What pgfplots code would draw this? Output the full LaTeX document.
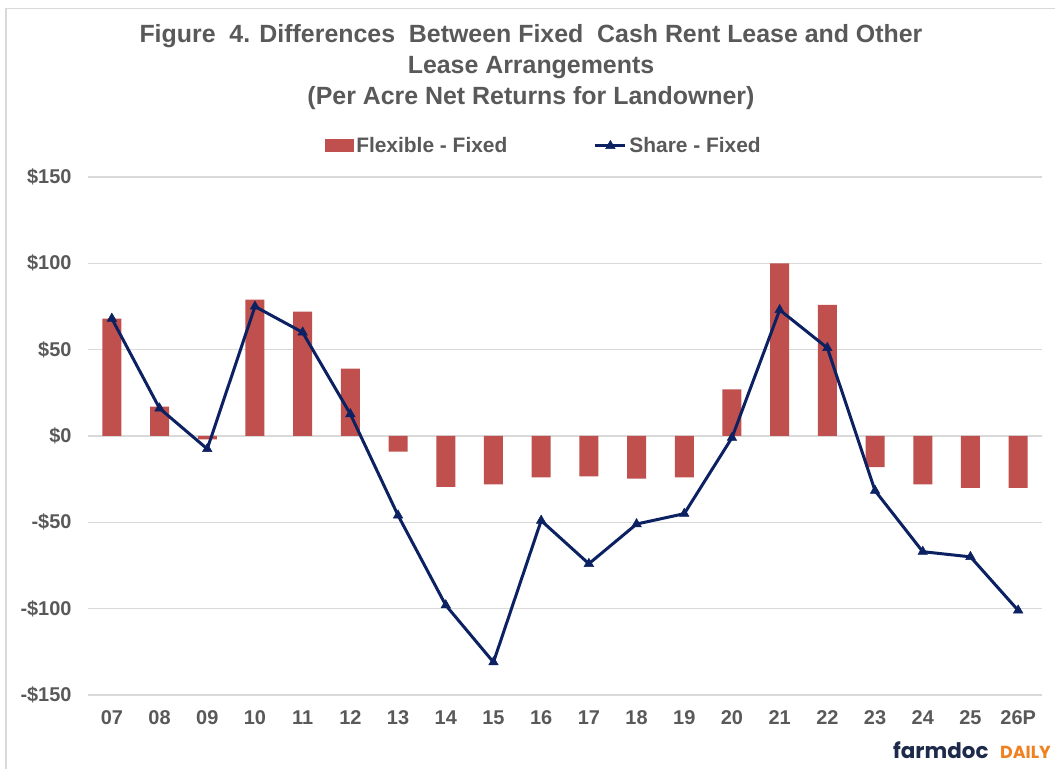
\documentclass[border=0pt]{standalone}
\usepackage{pgfplots}
\pgfplotsset{compat=1.18}
\usepackage{fontspec}
\setmainfont{Liberation Sans}
\newfontfamily\logofont{Poppins}
\definecolor{barred}{HTML}{C0504D}
\definecolor{navyline}{HTML}{0B2161}
\definecolor{txtgray}{HTML}{595959}
\definecolor{gridgray}{HTML}{D9D9D9}
\definecolor{logonavy}{HTML}{1E2A4A}
\definecolor{logoorange}{HTML}{F08122}
\pgfplotsset{
  my line legend/.style={legend image code/.code={\draw[mark repeat=2,mark phase=2,##1] plot coordinates {(0bp,0bp) (15bp,0bp) (30bp,0bp)};}},
  my bar legend/.style={legend image code/.code={\fill[barred] (0bp,-6.5bp) rectangle (29bp,6.5bp);}},
}
\begin{document}
\begin{tikzpicture}[x=1bp,y=1bp]
\useasboundingbox (0,0) rectangle (1055,769);
\fill[white] (0,0) rectangle (1055,769);
\draw[gridgray,line width=1.2bp] (6,0) -- (6,760.5) -- (1055,760.5);
\begin{axis}[
  at={(88bp,74bp)}, anchor=south west,
  scale only axis, width=954bp, height=518bp,
  xmin=-0.5, xmax=19.5, ymin=-150, ymax=150,
  xtick={0,...,19},
  xticklabels={07,08,09,10,11,12,13,14,15,16,17,18,19,20,21,22,23,24,25,26P},
  ytick={-150,-100,-50,0,50,100,150},
  yticklabels={-\$150,-\$100,-\$50,\$0,\$50,\$100,\$150},
  ymajorgrids, grid style={gridgray,line width=1.2bp},
  axis line style={draw=none},
  major tick length=0pt,
  tick label style={font=\fontsize{20}{20}\selectfont\bfseries, text=txtgray},
  yticklabel style={xshift=-13bp},
  xticklabel style={yshift=-12bp},
  legend columns=2,
  legend style={at={(0.478,1.060)}, anchor=center, draw=none, fill=none,
    font=\fontsize{21}{21}\selectfont\bfseries, text=txtgray,
    /tikz/every even column/.append style={column sep=84bp},
    nodes={inner sep=2.5bp}},
]
\addplot[ybar, bar width=19bp, fill=barred, draw=none, bar shift=0pt, my bar legend]
  coordinates {(0,68) (1,17) (2,-2) (3,79) (4,72) (5,39) (6,-9) (7,-29.5) (8,-28) (9,-24)
  (10,-23.4) (11,-24.7) (12,-24) (13,27) (14,100) (15,76) (16,-18) (17,-28) (18,-30) (19,-30)};
\addlegendentry{Flexible - Fixed}
\addplot[navyline, line width=3bp, mark=triangle*, mark size=5.5bp,
  mark options={line width=0.5bp}, my line legend]
  coordinates {(0,68) (1,16) (2,-7.5) (3,75) (4,60) (5,12.7) (6,-46) (7,-98) (8,-131) (9,-49)
  (10,-74) (11,-51) (12,-45) (13,-1) (14,73) (15,51) (16,-31.7) (17,-67) (18,-70) (19,-101)};
\addlegendentry{Share - Fixed}
\end{axis}
\node[anchor=base, text=txtgray, font=\fontsize{25}{25}\selectfont\bfseries] at (531,726) {Figure\ \ 4. Differences\ \ Between Fixed\ \ Cash Rent Lease and Other};
\node[anchor=base, text=txtgray, font=\fontsize{25}{25}\selectfont\bfseries] at (531,695) {Lease Arrangements};
\node[anchor=base, text=txtgray, font=\fontsize{25}{25}\selectfont\bfseries] at (531,664) {(Per Acre Net Returns for Landowner)};
\node[anchor=base west, inner sep=0, text=logonavy, font=\logofont\fontsize{21.5}{21.5}\selectfont\bfseries] at (893,10) {farmdoc};
\node[anchor=base west, inner sep=0, text=logoorange, font=\logofont\fontsize{17.5}{17.5}\selectfont\bfseries] at (1000,10) {DAILY};
\end{tikzpicture}
\end{document}
